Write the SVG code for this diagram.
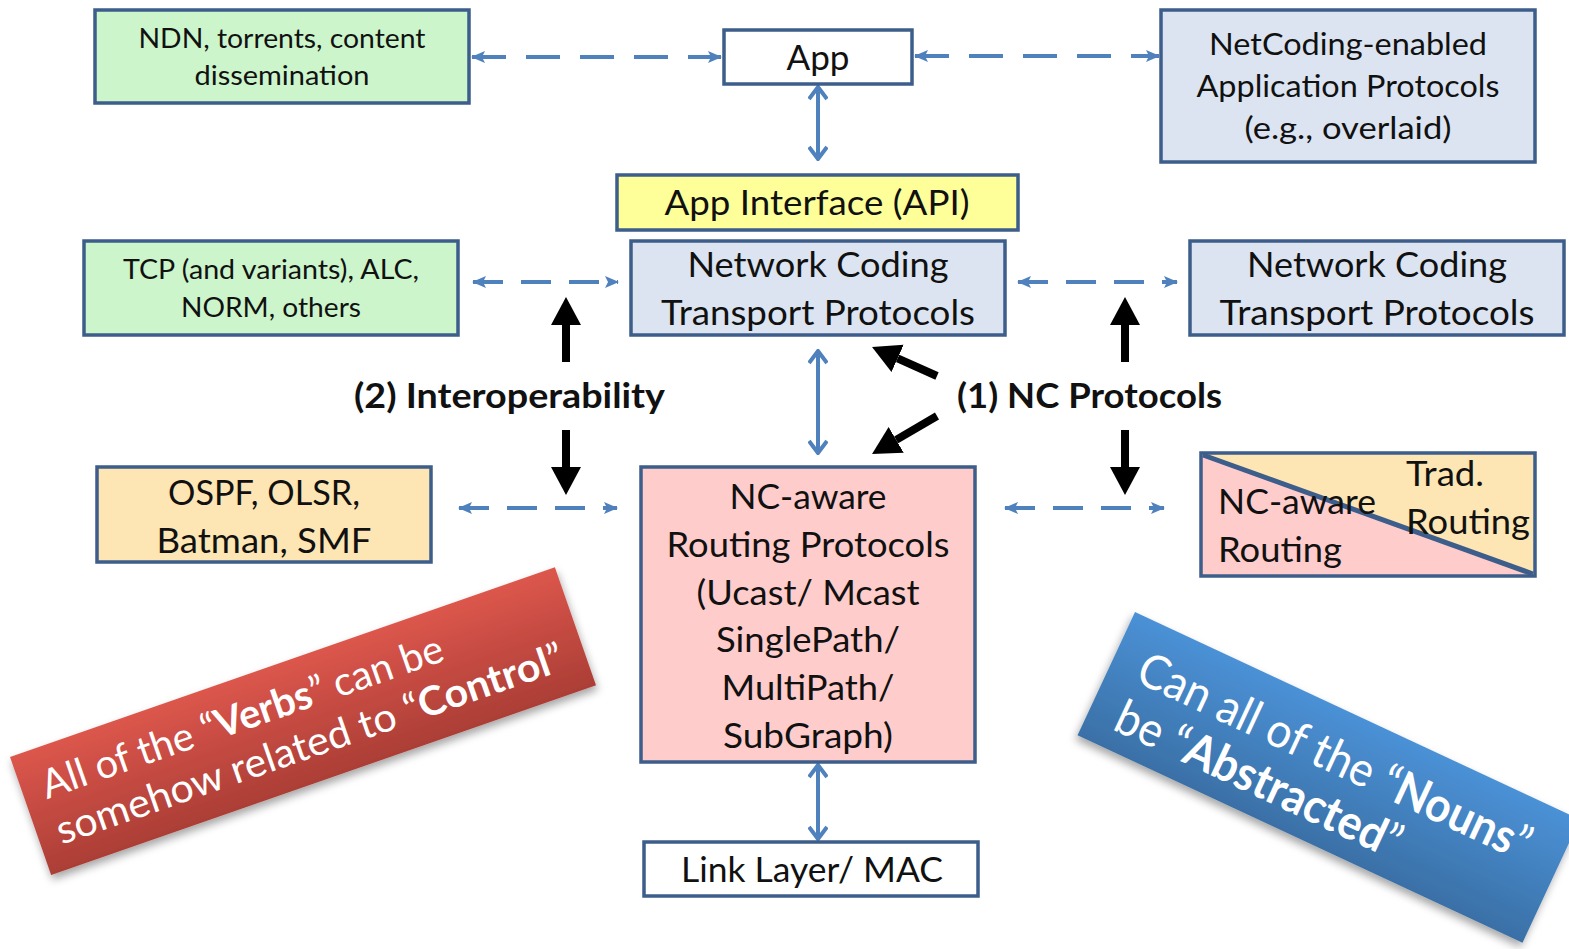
<svg xmlns="http://www.w3.org/2000/svg" width="1569" height="949" viewBox="0 0 1569 949">
<style>
.box{stroke:#3d5d8b;stroke-width:3.5}
.g{fill:#ccf5cc}.b{fill:#dbe4f0}.y{fill:#ffff99}.p{fill:#ffcccc}.o{fill:#fde6b4}.w{fill:#ffffff}
text{font-family:Lato,"Liberation Sans",sans-serif;fill:#111}
.t26{font-size:26px}.t30{font-size:30px}.t34{font-size:34px}
.bold{font-weight:bold}
.dash{stroke:#4f81bd;stroke-width:4;fill:none;stroke-dasharray:34 20}
.solid{stroke:#4f81bd;stroke-width:4;fill:none}
.blk{stroke:#000;stroke-width:8;fill:none}
.ban{fill:#fff;font-size:40px}
</style>
<defs>
<marker id="ta" markerUnits="userSpaceOnUse" viewBox="0 0 14 14" refX="13" refY="7" markerWidth="14" markerHeight="14" orient="auto-start-reverse"><path d="M0,1 L14,7 L0,13 L3,7 z" fill="#4f81bd"/></marker>
<marker id="va" markerUnits="userSpaceOnUse" viewBox="0 0 16 20" refX="14" refY="10" markerWidth="16" markerHeight="20" orient="auto-start-reverse"><path d="M2,1 L14,10 L2,19" fill="none" stroke="#4f81bd" stroke-width="4"/></marker>
<marker id="ba" markerUnits="userSpaceOnUse" viewBox="0 -16 30 32" refX="0" refY="0" markerWidth="30" markerHeight="32" orient="auto"><path d="M0,-15 L28,0 L0,15 z" fill="#000"/></marker>
<linearGradient id="rg" x1="0" y1="0" x2="0" y2="1"><stop offset="0" stop-color="#dc564c"/><stop offset="1" stop-color="#ab3e36"/></linearGradient>
<linearGradient id="bg" x1="0" y1="0" x2="0" y2="1"><stop offset="0" stop-color="#4b91d6"/><stop offset="1" stop-color="#3a70a6"/></linearGradient>
<filter id="sh" x="-10%" y="-10%" width="120%" height="140%"><feDropShadow dx="0" dy="5" stdDeviation="4" flood-color="#000" flood-opacity="0.35"/></filter>
</defs>

<g id="connectors">
<line class="dash" x1="472" y1="57" x2="721" y2="57" marker-start="url(#ta)" marker-end="url(#ta)"/>
<line class="dash" x1="915" y1="56" x2="1159" y2="56" marker-start="url(#ta)" marker-end="url(#ta)"/>
<line class="dash" x1="473" y1="282" x2="618" y2="282" marker-start="url(#ta)" marker-end="url(#ta)" style="stroke-dasharray:30 18"/>
<line class="dash" x1="1018" y1="282" x2="1177" y2="282" marker-start="url(#ta)" marker-end="url(#ta)" style="stroke-dasharray:30 18"/>
<line class="dash" x1="459" y1="508" x2="617" y2="508" marker-start="url(#ta)" marker-end="url(#ta)" style="stroke-dasharray:30 18"/>
<line class="dash" x1="1005" y1="508" x2="1164" y2="508" marker-start="url(#ta)" marker-end="url(#ta)" style="stroke-dasharray:30 18"/>
<line class="solid" x1="818" y1="87" x2="818" y2="159" marker-start="url(#va)" marker-end="url(#va)"/>
<line class="solid" x1="818" y1="351" x2="818" y2="453" marker-start="url(#va)" marker-end="url(#va)"/>
<line class="solid" x1="818" y1="765" x2="818" y2="839" marker-start="url(#va)" marker-end="url(#va)"/>
<line class="blk" x1="566" y1="362" x2="566" y2="325" marker-end="url(#ba)"/>
<line class="blk" x1="566" y1="430" x2="566" y2="467" marker-end="url(#ba)"/>
<line class="blk" x1="1125" y1="362" x2="1125" y2="325" marker-end="url(#ba)"/>
<line class="blk" x1="1125" y1="430" x2="1125" y2="467" marker-end="url(#ba)"/>
<line class="blk" x1="937" y1="376" x2="897.6" y2="358.4" marker-end="url(#ba)"/>
<line class="blk" x1="937" y1="416" x2="896.2" y2="439.9" marker-end="url(#ba)"/>
</g>

<g id="ndn">
<rect class="box g" x="95" y="10" width="374" height="93"/>
<text class="t26" x="282" y="48" text-anchor="middle" textLength="287" lengthAdjust="spacingAndGlyphs">NDN, torrents, content</text>
<text class="t26" x="282" y="85" text-anchor="middle" textLength="175" lengthAdjust="spacingAndGlyphs">dissemination</text>
</g>
<g id="app">
<rect class="box w" x="724" y="30" width="188" height="54"/>
<text class="t34" x="818" y="70" text-anchor="middle" textLength="63" lengthAdjust="spacingAndGlyphs">App</text>
</g>
<g id="netcoding-app">
<rect class="box b" x="1161" y="10" width="374" height="152"/>
<text class="t30" x="1348" y="55" text-anchor="middle" textLength="278" lengthAdjust="spacingAndGlyphs">NetCoding-enabled</text>
<text class="t30" x="1348" y="97" text-anchor="middle" textLength="303" lengthAdjust="spacingAndGlyphs">Application Protocols</text>
<text class="t30" x="1348" y="139" text-anchor="middle" textLength="207" lengthAdjust="spacingAndGlyphs">(e.g., overlaid)</text>
</g>
<g id="api">
<rect class="box y" x="617" y="175" width="401" height="55"/>
<text class="t34" x="817" y="215" text-anchor="middle" textLength="305" lengthAdjust="spacingAndGlyphs">App Interface (API)</text>
</g>
<g id="nc-transport">
<rect class="box b" x="631" y="241" width="374" height="94"/>
<text class="t34" x="818" y="277" text-anchor="middle" textLength="261" lengthAdjust="spacingAndGlyphs">Network Coding</text>
<text class="t34" x="818" y="325" text-anchor="middle" textLength="314" lengthAdjust="spacingAndGlyphs">Transport Protocols</text>
</g>
<g id="tcp">
<rect class="box g" x="84" y="241" width="374" height="94"/>
<text class="t26" x="271" y="279" text-anchor="middle" textLength="296" lengthAdjust="spacingAndGlyphs">TCP (and variants), ALC,</text>
<text class="t26" x="271" y="317" text-anchor="middle" textLength="180" lengthAdjust="spacingAndGlyphs">NORM, others</text>
</g>
<g id="nc-transport-right">
<rect class="box b" x="1190" y="241" width="374" height="94"/>
<text class="t34" x="1377" y="277" text-anchor="middle" textLength="260" lengthAdjust="spacingAndGlyphs">Network Coding</text>
<text class="t34" x="1377" y="325" text-anchor="middle" textLength="315" lengthAdjust="spacingAndGlyphs">Transport Protocols</text>
</g>
<g id="ospf">
<rect class="box o" x="97" y="467" width="334" height="95"/>
<text class="t34" x="264" y="505" text-anchor="middle" textLength="192" lengthAdjust="spacingAndGlyphs">OSPF, OLSR,</text>
<text class="t34" x="264" y="553" text-anchor="middle" textLength="215" lengthAdjust="spacingAndGlyphs">Batman, SMF</text>
</g>
<g id="nc-routing">
<rect class="box p" x="641" y="467" width="334" height="295"/>
<text class="t34" x="808" y="509" text-anchor="middle" textLength="157" lengthAdjust="spacingAndGlyphs">NC-aware</text>
<text class="t34" x="808" y="557" text-anchor="middle" textLength="283" lengthAdjust="spacingAndGlyphs">Routing Protocols</text>
<text class="t34" x="808" y="605" text-anchor="middle" textLength="223" lengthAdjust="spacingAndGlyphs">(Ucast/ Mcast</text>
<text class="t34" x="808" y="652" text-anchor="middle" textLength="184" lengthAdjust="spacingAndGlyphs">SinglePath/</text>
<text class="t34" x="808" y="700" text-anchor="middle" textLength="173" lengthAdjust="spacingAndGlyphs">MultiPath/</text>
<text class="t34" x="808" y="748" text-anchor="middle" textLength="170" lengthAdjust="spacingAndGlyphs">SubGraph)</text>
</g>
<g id="split-routing">
<polygon class="p" points="1201,453 1535,576 1201,576"/>
<polygon class="o" points="1201,453 1535,453 1535,576"/>
<rect x="1201" y="453" width="334" height="123" fill="none" class="box"/>
<line x1="1203" y1="455" x2="1533" y2="574" stroke="#3d5d8b" stroke-width="5"/>
<text class="t34" x="1406" y="486" textLength="78" lengthAdjust="spacingAndGlyphs">Trad.</text>
<text class="t34" x="1406" y="534" textLength="124" lengthAdjust="spacingAndGlyphs">Routing</text>
<text class="t34" x="1218" y="514" textLength="158" lengthAdjust="spacingAndGlyphs">NC-aware</text>
<text class="t34" x="1218" y="562" textLength="124" lengthAdjust="spacingAndGlyphs">Routing</text>
</g>
<g id="link">
<rect class="box w" x="644" y="842" width="334" height="54"/>
<text class="t34" x="812" y="882" text-anchor="middle" textLength="262" lengthAdjust="spacingAndGlyphs">Link Layer/ MAC</text>
</g>
<g id="labels">
<text class="t34 bold" x="354" y="408" textLength="311" lengthAdjust="spacingAndGlyphs">(2) Interoperability</text>
<text class="t34 bold" x="957" y="408" textLength="265" lengthAdjust="spacingAndGlyphs">(1) NC Protocols</text>
</g>
<g id="verbs-callout" transform="translate(10,757) rotate(-19.2)">
<rect x="0" y="0" width="577" height="125" fill="url(#rg)" filter="url(#sh)"/>
<text class="ban" x="21" y="52" textLength="423" lengthAdjust="spacingAndGlyphs">All of the “<tspan font-weight="bold">Verbs</tspan>” can be</text>
<text class="ban" x="20" y="100" textLength="535" lengthAdjust="spacingAndGlyphs">somehow related to  “<tspan font-weight="bold">Control</tspan>”</text>
</g>
<g id="nouns-callout" transform="translate(1135,612) rotate(25)">
<rect x="0" y="0" width="491" height="136" fill="url(#bg)" filter="url(#sh)"/>
<text class="ban" style="font-size:48px" x="28" y="63" textLength="428" lengthAdjust="spacingAndGlyphs">Can all of the “<tspan font-weight="bold">Nouns</tspan>”</text>
<text class="ban" style="font-size:48px" x="28" y="116" textLength="310" lengthAdjust="spacingAndGlyphs">be “<tspan font-weight="bold">Abstracted</tspan>”</text>
</g>
</svg>
